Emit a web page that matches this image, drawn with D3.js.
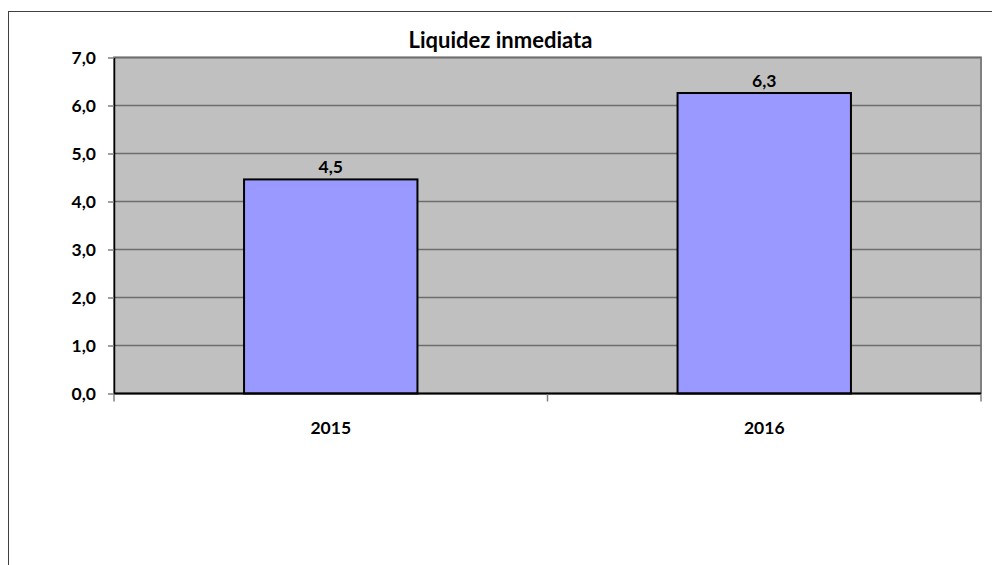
<!DOCTYPE html>
<html>
<head>
<meta charset="utf-8">
<script src="https://cdn.jsdelivr.net/npm/d3@7"></script>
<style>
  body { margin: 0; background: #fff; }
  text { font-family: Lato, "Open Sans", sans-serif; font-weight: bold; fill: #000; }
</style>
</head>
<body>
<div id="chart"></div>
<script>
const title = "Liquidez inmediata";
const years = ["2015", "2016"];
const values = [4.46, 6.26];
const yTicks = [0, 1, 2, 3, 4, 5, 6, 7];

const width = 992, height = 565;
const margin = {top: 57.5, left: 114, right: 11, bottom: 171.5};
const innerW = width - margin.left - margin.right;
const innerH = height - margin.top - margin.bottom;

const fmt = v => d3.format(".1f")(v).replace(".", ",");

const svg = d3.select("#chart").append("svg")
    .attr("width", width)
    .attr("height", height);

// outer frame
svg.append("rect")
    .attr("x", 8.5).attr("y", 11.5)
    .attr("width", 1000).attr("height", 600)
    .attr("fill", "none")
    .attr("stroke", "#404040")
    .attr("stroke-width", 1);

const g = svg.append("g")
    .attr("transform", `translate(${margin.left}, ${margin.top})`);

const x = d3.scaleBand()
    .domain(years)
    .range([0, innerW])
    .paddingInner(0.6)
    .paddingOuter(0.3);

const y = d3.scaleLinear()
    .domain([0, 7])
    .range([innerH, 0]);

// plot area
g.append("rect")
    .attr("width", innerW)
    .attr("height", innerH)
    .attr("fill", "#c0c0c0")
    .attr("stroke", "#808080")
    .attr("stroke-width", 2);

// gridlines
g.append("g")
    .selectAll("line")
    .data(yTicks.filter(d => d > 0))
    .join("line")
    .attr("x1", 0).attr("x2", innerW)
    .attr("y1", d => y(d)).attr("y2", d => y(d))
    .attr("stroke", "#6e6e6e")
    .attr("stroke-width", 1.5);

// bars
g.append("g")
    .selectAll("rect")
    .data(values)
    .join("rect")
    .attr("x", (d, i) => x(years[i]))
    .attr("y", d => y(d))
    .attr("width", x.bandwidth())
    .attr("height", d => innerH - y(d))
    .attr("fill", "#9999ff")
    .attr("stroke", "#000")
    .attr("stroke-width", 2);

// value labels
g.append("g")
    .selectAll("text")
    .data(values)
    .join("text")
    .attr("x", (d, i) => x(years[i]) + x.bandwidth() / 2)
    .attr("y", d => y(d) - 6)
    .attr("text-anchor", "middle")
    .attr("font-size", 17.5)
    .text(d => fmt(d));

// y axis
const yAxis = d3.axisLeft(y)
    .tickValues(yTicks)
    .tickFormat(fmt)
    .tickSize(6)
    .tickPadding(12)
    .tickSizeOuter(0);

const yAxisG = g.append("g").call(yAxis);
yAxisG.select(".domain").attr("stroke", "#000").attr("stroke-width", 1.5);
yAxisG.selectAll(".tick line").attr("stroke", "#808080").attr("stroke-width", 1.5);
yAxisG.selectAll(".tick text").attr("font-size", 17.5).attr("font-family", null);

// x axis
const xAxisG = g.append("g")
    .attr("transform", `translate(0, ${innerH})`);

xAxisG.append("line")
    .attr("x1", 0).attr("x2", innerW)
    .attr("stroke", "#000")
    .attr("stroke-width", 2);

const boundaries = d3.range(years.length + 1).map(i => i * innerW / years.length);
xAxisG.selectAll("line.tick")
    .data(boundaries)
    .join("line")
    .attr("class", "tick")
    .attr("x1", d => d).attr("x2", d => d)
    .attr("y1", 1).attr("y2", 8)
    .attr("stroke", "#808080")
    .attr("stroke-width", 1.5);

xAxisG.selectAll("text")
    .data(years)
    .join("text")
    .attr("x", d => x(d) + x.bandwidth() / 2)
    .attr("y", 40)
    .attr("text-anchor", "middle")
    .attr("font-size", 17.5)
    .text(d => d);

// title
svg.append("text")
    .attr("x", margin.left + innerW / 2 - 47)
    .attr("y", 48)
    .attr("text-anchor", "middle")
    .attr("font-size", 22)
    .text(title);
</script>
</body>
</html>
